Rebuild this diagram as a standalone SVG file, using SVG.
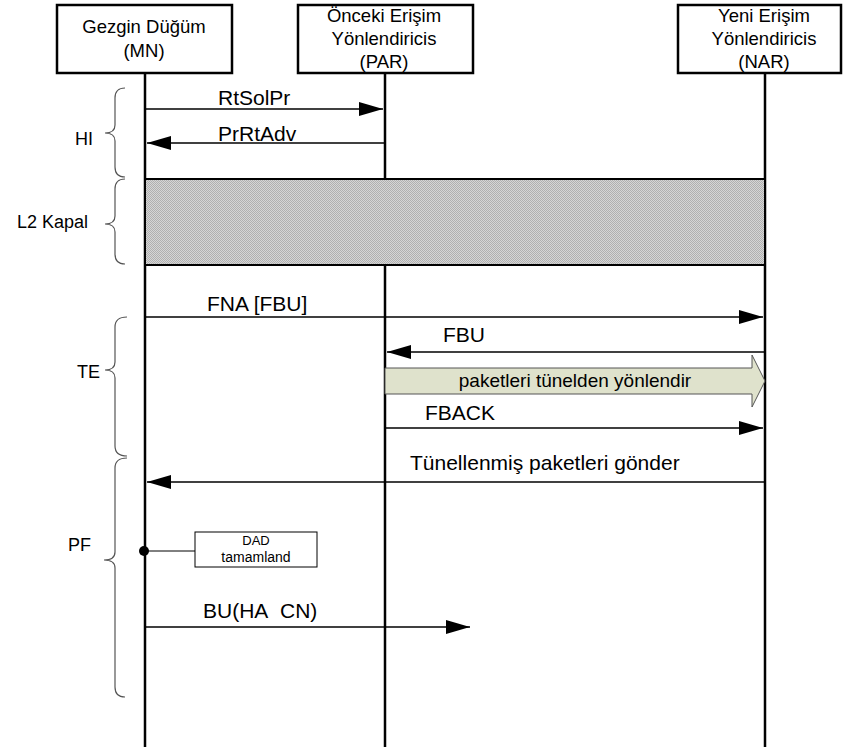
<svg xmlns="http://www.w3.org/2000/svg" width="843" height="752" viewBox="0 0 843 752">
  <style>
    text { font-family: "Liberation Sans", Arial, sans-serif; fill: #000; }
    .box { fill: #fff; stroke: #000; stroke-width: 2.5; }
    .life { stroke: #000; stroke-width: 2.5; fill: none; }
    .msg { stroke: #000; stroke-width: 1.5; fill: none; marker-end: url(#head); }
    .brace { stroke: #555; stroke-width: 1.2; fill: none; }
    .nodeText { font-size: 18.5px; text-anchor: middle; }
    .label { font-size: 21px; }
    .phase { font-size: 18px; }
  </style>
  <defs>
    <marker id="head" markerUnits="userSpaceOnUse" markerWidth="24" markerHeight="14" refX="24" refY="7" orient="auto">
      <path d="M0,0 L24,7 L0,14 z" fill="#000"/>
    </marker>
    <pattern id="dither" width="2" height="2" patternUnits="userSpaceOnUse">
      <rect width="2" height="2" fill="#d6d6d6"/>
      <rect width="1" height="1" fill="#b0b0b0"/>
      <rect x="1" y="1" width="1" height="1" fill="#b0b0b0"/>
    </pattern>
  </defs>

  <!-- lifelines -->
  <g id="lifelines">
    <line class="life" x1="145" y1="73" x2="145" y2="747"/>
    <line class="life" x1="385" y1="73" x2="385" y2="747"/>
    <line class="life" x1="765" y1="73" x2="765" y2="747"/>
  </g>

  <!-- participants -->
  <g id="node-mn">
    <rect class="box" x="57" y="5" width="175" height="68"/>
    <text class="nodeText" x="144" y="33">Gezgin Düğüm</text>
    <text class="nodeText" x="144" y="57">(MN)</text>
  </g>
  <g id="node-par">
    <rect class="box" x="298" y="5" width="175" height="68"/>
    <text class="nodeText" x="384" y="22">Önceki Erişim</text>
    <text class="nodeText" x="384" y="45">Yönlendiricis</text>
    <text class="nodeText" x="384" y="68">(PAR)</text>
  </g>
  <g id="node-nar">
    <rect class="box" x="678" y="5" width="163" height="68"/>
    <text class="nodeText" x="764" y="22">Yeni Erişim</text>
    <text class="nodeText" x="764" y="45">Yönlendiricis</text>
    <text class="nodeText" x="764" y="68">(NAR)</text>
  </g>

  <!-- link-layer outage band -->
  <g id="node-l2">
    <rect x="145" y="179" width="620" height="86" fill="url(#dither)" stroke="#000" stroke-width="2"/>
  </g>

  <!-- forwarding of buffered packets -->
  <g id="node-tunnel">
    <path d="M385,368 L752,368 L752,355 L765,381 L752,407 L752,394 L385,394 z" fill="#dfe2cc" stroke="#555" stroke-width="1"/>
    <text x="575" y="387" font-size="19" text-anchor="middle">paketleri tünelden yönlendir</text>
  </g>

  <!-- DAD completion note -->
  <g id="node-dad">
    <circle cx="144" cy="551" r="5" fill="#000"/>
    <line x1="144" y1="551" x2="195" y2="551" stroke="#000" stroke-width="1"/>
    <rect x="195" y="532" width="122" height="35" fill="#fff" stroke="#000" stroke-width="1"/>
    <text x="256" y="545" font-size="13" text-anchor="middle">DAD</text>
    <text x="256" y="562" font-size="14" text-anchor="middle">tamamland</text>
  </g>

  <!-- phase braces -->
  <g id="braces">
    <path class="brace" d="M125,88 Q115,88 115,98 L115,125 Q115,133 105,133 Q115,133 115,141 L115,167 Q115,177 125,177"/>
    <path class="brace" d="M125,179 Q115,179 115,189 L115,216 Q115,224 105,224 Q115,224 115,232 L115,254 Q115,264 125,264"/>
    <path class="brace" d="M127,317 Q115,317 115,327 L115,362 Q115,370 105,370 Q115,370 115,378 L115,446 Q115,456 127,456"/>
    <path class="brace" d="M127,458 Q115,458 115,468 L115,552 Q115,560 104,560 Q115,560 115,568 L115,687 Q115,697 125,697"/>
    <text class="phase" x="75" y="145">HI</text>
    <text class="phase" x="17" y="228">L2 Kapal</text>
    <text class="phase" x="77" y="378">TE</text>
    <text class="phase" x="68" y="551">PF</text>
  </g>

  <!-- messages -->
  <g id="connectors">
    <line class="msg" x1="145" y1="109" x2="383" y2="109"/>
    <text class="label" x="218" y="105">RtSolPr</text>

    <line class="msg" x1="385" y1="143" x2="147" y2="143"/>
    <text class="label" x="218" y="141">PrRtAdv</text>

    <line class="msg" x1="145" y1="317" x2="763" y2="317"/>
    <text class="label" x="207" y="311">FNA [FBU]</text>

    <line class="msg" x1="765" y1="352" x2="387" y2="352"/>
    <text class="label" x="443" y="342">FBU</text>

    <line class="msg" x1="385" y1="428" x2="763" y2="428"/>
    <text class="label" x="425" y="420">FBACK</text>

    <line class="msg" x1="765" y1="482" x2="147" y2="482"/>
    <text class="label" x="410" y="470">Tünellenmiş paketleri gönder</text>

    <line class="msg" x1="145" y1="627" x2="470" y2="627"/>
    <text class="label" x="203" y="618">BU(HA&#160; CN)</text>
  </g>
</svg>
